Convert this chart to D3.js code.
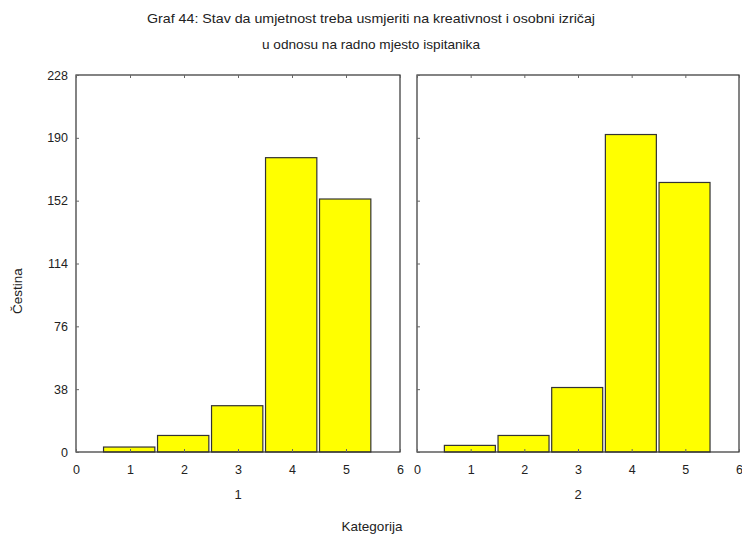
<!DOCTYPE html>
<html><head><meta charset="utf-8">
<script src="https://cdn.jsdelivr.net/npm/d3@7"></script>
<style>body{margin:0;background:#fff}svg{display:block}text{font-family:"Liberation Sans",Arial,sans-serif;fill:#222}</style>
</head><body>
<script>
const categories = [1, 2, 3, 4, 5];
const panelLabels = ["1", "2"];
const valuesPanel1 = [3, 10, 28, 178, 153];
const valuesPanel2 = [4, 10, 39, 192, 163];
const yTicks = [0, 38, 76, 114, 152, 190, 228];
const xTicks = [0, 1, 2, 3, 4, 5, 6];
const titleLines = ["Graf 44: Stav da umjetnost treba usmjeriti na kreativnost i osobni izričaj", "u odnosu na radno mjesto ispitanika"];
const yLabel = "Čestina";
const xLabel = "Kategorija";

const W = 742, H = 536;
const svg = d3.select("body").append("svg").attr("width", W).attr("height", H);
svg.append("rect").attr("width", W).attr("height", H).attr("fill", "#fff");

svg.selectAll("text.title").data(titleLines).join("text")
  .attr("x", 371).attr("y", (d, i) => 23 + i * 26)
  .attr("text-anchor", "middle").style("font-size", "13px")
  .attr("textLength", (d, i) => i === 0 ? 448 : 218).attr("lengthAdjust", "spacingAndGlyphs").text(d => d);

const plotTop = 75, plotBottom = 452;
const y = d3.scaleLinear().domain([0, 228]).range([plotBottom, plotTop]);
const panels = [
  {x0: 76, x1: 400, vals: valuesPanel1, label: panelLabels[0]},
  {x0: 417, x1: 739, vals: valuesPanel2, label: panelLabels[1]}
];

panels.forEach((p, pi) => {
  const x = d3.scaleLinear().domain([0, 6]).range([p.x0, p.x1]);
  const g = svg.append("g");
  g.selectAll("rect.bar").data(categories).join("rect")
    .attr("x", d => x(d - 0.49)).attr("width", d => x(d + 0.46) - x(d - 0.49))
    .attr("y", (d, i) => y(p.vals[i])).attr("height", (d, i) => y(0) - y(p.vals[i]))
    .attr("fill", "#ffff00").attr("stroke", "#333").attr("stroke-width", 1.2);
  g.append("rect").attr("x", p.x0).attr("y", plotTop).attr("width", p.x1 - p.x0).attr("height", plotBottom - plotTop)
    .attr("fill", "none").attr("stroke", "#333").attr("stroke-width", 1.2);
  const ya = g.append("g").attr("transform", `translate(${p.x0},0)`)
    .call(d3.axisRight(y).tickValues(yTicks).tickSize(3).tickFormat(pi === 0 ? d3.format("d") : ""));
  ya.select(".domain").remove();
  ya.selectAll("line").attr("stroke", "#666");
  if (pi === 0) {
    ya.selectAll("text").attr("x", -8).attr("text-anchor", "end").style("font-size", "12.5px").attr("fill", "#222");
  } else ya.selectAll("text").remove();
  const xt = g.append("g").attr("transform", `translate(0,${plotTop})`)
    .call(d3.axisBottom(x).tickValues(xTicks).tickSize(3).tickFormat(""));
  xt.select(".domain").remove();
  xt.selectAll("line").attr("stroke", "#666");
  const xa = g.append("g").attr("transform", `translate(0,${plotBottom})`)
    .call(d3.axisTop(x).tickValues(xTicks).tickSize(3).tickFormat(d3.format("d")));
  xa.select(".domain").remove();
  xa.selectAll("line").attr("stroke", "#666");
  xa.selectAll("text").attr("y", 22).attr("dy", "0").style("font-size", "12.5px").attr("fill", "#222");
  g.append("text").attr("x", (p.x0 + p.x1) / 2).attr("y", 499)
    .attr("text-anchor", "middle").style("font-size", "13px").text(p.label);
});

svg.append("text").attr("transform", "translate(22,291) rotate(-90)")
  .attr("text-anchor", "middle").style("font-size", "13.5px").text(yLabel);
svg.append("text").attr("x", 372).attr("y", 531)
  .attr("text-anchor", "middle").style("font-size", "13.5px").text(xLabel);
</script>
</body></html>
